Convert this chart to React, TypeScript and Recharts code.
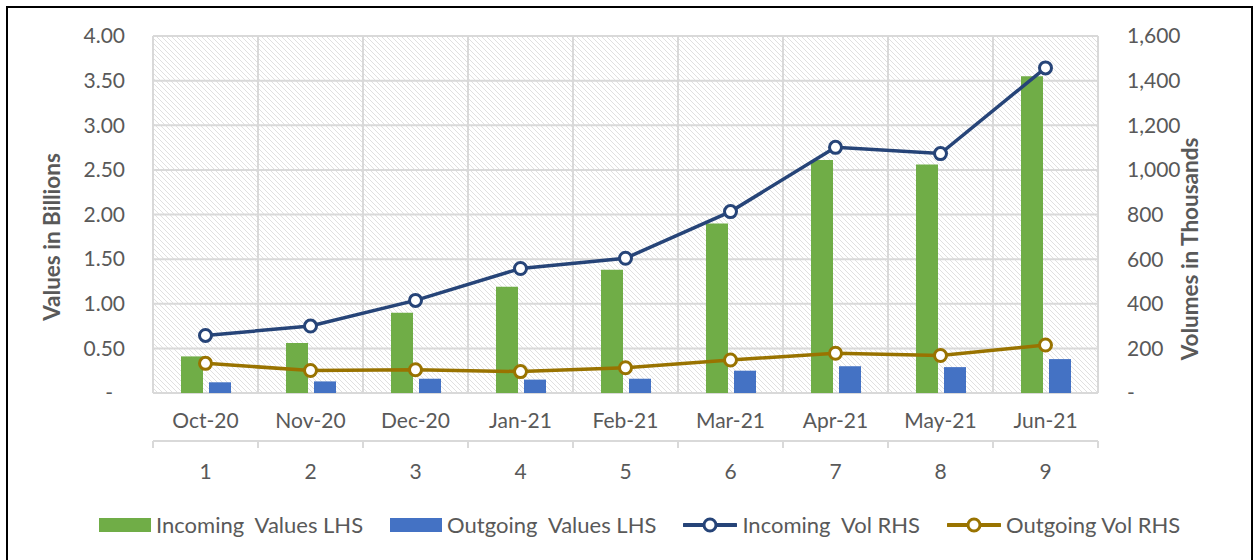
import { ComposedChart, Bar, Line, XAxis, YAxis, CartesianGrid } from 'recharts'

const months = ['Oct-20', 'Nov-20', 'Dec-20', 'Jan-21', 'Feb-21', 'Mar-21', 'Apr-21', 'May-21', 'Jun-21']
const periodNums = [1, 2, 3, 4, 5, 6, 7, 8, 9]
const incomingValues = [0.41, 0.56, 0.9, 1.19, 1.38, 1.9, 2.61, 2.56, 3.55]
const outgoingValues = [0.12, 0.13, 0.16, 0.15, 0.16, 0.25, 0.3, 0.29, 0.38]
const incomingVol = [258, 300, 415, 558, 604, 813, 1101, 1073, 1457]
const outgoingVol = [133, 101, 104, 96, 113, 148, 178, 168, 215]

const leftTicks = [0, 0.5, 1, 1.5, 2, 2.5, 3, 3.5, 4]
const rightTicks = [0, 200, 400, 600, 800, 1000, 1200, 1400, 1600]

const FONT = 'Lato, sans-serif'
const TEXT = '#595959'
const GRID = '#d9d9d9'

const series = [
  { key: 'inVal', name: 'Incoming  Values LHS', color: '#70AD47', kind: 'bar' },
  { key: 'outVal', name: 'Outgoing  Values LHS', color: '#4472C4', kind: 'bar' },
  { key: 'inVol', name: 'Incoming  Vol RHS', color: '#264478', kind: 'line' },
  { key: 'outVol', name: 'Outgoing Vol RHS', color: '#997300', kind: 'line' },
]

const data = months.map((m, i) => ({
  month: m,
  num: periodNums[i],
  inVal: incomingValues[i],
  outVal: outgoingValues[i],
  inVol: incomingVol[i],
  outVol: outgoingVol[i],
}))

function LeftTick({ x, y, payload }: any) {
  const v = payload.value
  return (
    <text x={v === 0 ? x - 12 : x} y={y} dy="0.35em" textAnchor="end" fill={TEXT} fontSize={21} fontFamily={FONT}>
      {v === 0 ? '-' : v.toFixed(2)}
    </text>
  )
}

function NumTick({ x, y, payload, index, visibleTicksCount }: any) {
  const half = payload.offset ?? 52.5
  const axisY = y - 31
  const last = index === visibleTicksCount - 1
  return (
    <g>
      <line x1={x - half} x2={x - half} y1={axisY} y2={axisY + 7} stroke={GRID} strokeWidth={2} />
      {last && <line x1={x + half} x2={x + half} y1={axisY} y2={axisY + 7} stroke={GRID} strokeWidth={2} />}
      <text x={x} y={y} dy="0.35em" textAnchor="middle" fill={TEXT} fontSize={21} fontFamily={FONT}>
        {payload.value}
      </text>
    </g>
  )
}

function AxisTitle({ value, cx, cy }: any) {
  return (
    <text
      x={cx}
      y={cy}
      transform={`rotate(-90 ${cx} ${cy})`}
      textAnchor="middle"
      dominantBaseline="central"
      fill={TEXT}
      fontSize={22.5}
      fontWeight="bold"
      fontFamily={FONT}
    >
      {value}
    </text>
  )
}

function LegendRow() {
  return (
    <div
      style={{
        position: 'absolute',
        left: 99,
        top: 511,
        display: 'flex',
        alignItems: 'center',
        gap: 27,
        fontFamily: FONT,
        fontSize: 22,
        color: TEXT,
        whiteSpace: 'pre',
      }}
    >
      {series.map((s) => (
        <div key={s.key} style={{ display: 'flex', alignItems: 'center', gap: 5 }}>
          {s.kind === 'bar' ? (
            <div style={{ width: 52, height: 14, background: s.color }} />
          ) : (
            <svg width={54} height={18}>
              <line x1={1} x2={53} y1={9} y2={9} stroke={s.color} strokeWidth={4} strokeLinecap="round" />
              <circle cx={27} cy={9} r={6} fill="#fff" stroke={s.color} strokeWidth={3} />
            </svg>
          )}
          <span>{s.name}</span>
        </div>
      ))}
    </div>
  )
}

export default function App() {
  return (
    <div style={{ position: 'absolute', left: 0, top: 0, width: 1255, height: 560, overflow: 'hidden', background: '#fff' }}>
      <div
        style={{
          position: 'absolute',
          left: 6,
          top: 6,
          width: 1247,
          height: 554,
          boxSizing: 'border-box',
          borderTop: '2px solid #000',
          borderLeft: '2px solid #000',
          borderRight: '2px solid #000',
        }}
      />
      <div style={{ position: 'absolute', left: 0, top: 0 }}>
        <ComposedChart
          width={1255}
          height={560}
          data={data}
          margin={{ top: 36, right: 0, bottom: 59, left: 0 }}
          barGap={6}
        >
          <defs>
            <pattern id="hatch" width="5" height="5" patternUnits="userSpaceOnUse">
              <rect width="5" height="5" fill="#fff" />
              <path d="M0,0 L5,5 M-1,4 L1,6 M4,-1 L6,1" stroke="#e0e0e0" strokeWidth="1" />
            </pattern>
          </defs>
          <CartesianGrid
            xAxisId="month"
            yAxisId="left"
            fill="url(#hatch)"
            stroke={GRID}
            strokeWidth={2}
            verticalCoordinatesGenerator={({ offset }: any) =>
              Array.from({ length: months.length + 1 }, (_, i) => offset.left + (i * offset.width) / months.length)
            }
          />
          <XAxis
            xAxisId="month"
            dataKey="month"
            height={48}
            axisLine={false}
            tickLine={false}
            tickSize={0}
            tickMargin={20}
            interval={0}
            tick={{ fill: TEXT, fontSize: 21, fontFamily: FONT }}
          />
          <XAxis
            xAxisId="num"
            dataKey="num"
            height={60}
            axisLine={{ stroke: GRID, strokeWidth: 2 }}
            tickLine={false}
            tickSize={0}
            tickMargin={31}
            interval={0}
            tick={<NumTick />}
          />
          <YAxis
            yAxisId="left"
            orientation="left"
            width={153}
            domain={[0, 4]}
            ticks={leftTicks}
            axisLine={false}
            tickLine={false}
            tickSize={0}
            tickMargin={28}
            tick={<LeftTick />}
            label={<AxisTitle value="Values in Billions" cx={51} cy={237} />}
          />
          <YAxis
            yAxisId="right"
            orientation="right"
            width={157}
            domain={[0, 1600]}
            ticks={rightTicks}
            axisLine={false}
            tickLine={false}
            tickSize={0}
            tickMargin={29}
            tickFormatter={(v: number) => (v === 0 ? '-' : v.toLocaleString('en-US'))}
            tick={{ fill: TEXT, fontSize: 21, fontFamily: FONT, textAnchor: 'start' }}
            label={<AxisTitle value="Volumes in Thousands" cx={1189} cy={249} />}
          />
          <Bar xAxisId="month" yAxisId="left" dataKey="inVal" name={series[0].name} fill={series[0].color} barSize={22} isAnimationActive={false} />
          <Bar xAxisId="month" yAxisId="left" dataKey="outVal" name={series[1].name} fill={series[1].color} barSize={22} isAnimationActive={false} />
          <Line
            xAxisId="month"
            yAxisId="right"
            dataKey="inVol"
            name={series[2].name}
            stroke={series[2].color}
            strokeWidth={3.5}
            dot={{ r: 6, fill: '#fff', stroke: series[2].color, strokeWidth: 3 }}
            isAnimationActive={false}
          />
          <Line
            xAxisId="month"
            yAxisId="right"
            dataKey="outVol"
            name={series[3].name}
            stroke={series[3].color}
            strokeWidth={3.5}
            dot={{ r: 6, fill: '#fff', stroke: series[3].color, strokeWidth: 3 }}
            isAnimationActive={false}
          />
        </ComposedChart>
      </div>
      <LegendRow />
    </div>
  )
}
